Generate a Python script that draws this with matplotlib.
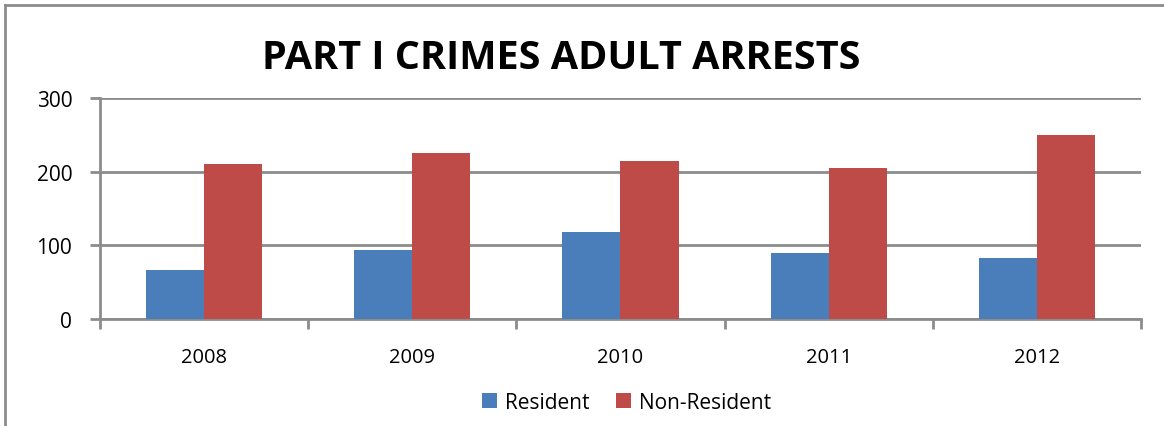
import numpy as np
import matplotlib.pyplot as plt
from matplotlib.lines import Line2D

years = ["2008", "2009", "2010", "2011", "2012"]
resident = [67, 94, 118, 89, 83]
non_resident = [210, 226, 215, 205, 250]

plt.rcParams["font.family"] = ["Open Sans", "DejaVu Sans"]

BLUE = "#4A7EBB"
RED = "#BE4B48"
GRAY = "#8C8C8C"

fig = plt.figure(figsize=(11.64, 4.27), dpi=100)
ax = fig.add_axes([0.0859, 0.2506, 0.8943, 0.5175])

x = np.arange(len(years))
w = 0.279
ax.bar(x - w / 2, resident, w, color=BLUE, label="Resident", zorder=3)
ax.bar(x + w / 2, non_resident, w, color=RED, label="Non-Resident", zorder=3)

ax.set_xlim(-0.5, len(years) - 0.5)
ax.set_ylim(0, 300)
ax.set_yticks([0, 100, 200, 300])
ax.yaxis.grid(True, color=GRAY, linewidth=2, zorder=0)
ax.set_axisbelow(True)

for s in ("top", "right"):
    ax.spines[s].set_visible(False)
for s in ("left", "bottom"):
    ax.spines[s].set_color(GRAY)
    ax.spines[s].set_linewidth(2)

ax.set_xticks(x)
ax.set_xticklabels(years, fontsize=14.5)
ax.tick_params(axis="x", length=0, pad=20)
ax.set_xticks(np.arange(-0.5, len(years)), minor=True)
ax.tick_params(axis="x", which="minor", length=7, width=2, color=GRAY)
ax.tick_params(axis="y", length=7, width=2, color=GRAY, labelsize=15, pad=13)

fig.text(0.482, 1 - 59 / 427, "PART I CRIMES ADULT ARRESTS", ha="center", va="center",
         fontsize=28.5, fontweight="bold")

ax.legend(loc="center", bbox_to_anchor=(0.506, -0.376), ncol=2, frameon=False,
          fontsize=15, handlelength=0.7, handleheight=0.7, handletextpad=0.4,
          columnspacing=1.3)

# outer chart frame (top and left edges)
fig.add_artist(Line2D([5 / 1164, 1], [1 - 6 / 427] * 2, color=GRAY, linewidth=2,
                      transform=fig.transFigure))
fig.add_artist(Line2D([5 / 1164] * 2, [0, 1 - 6 / 427], color=GRAY, linewidth=2,
                      transform=fig.transFigure))

fig.savefig("out.png", dpi=100)
